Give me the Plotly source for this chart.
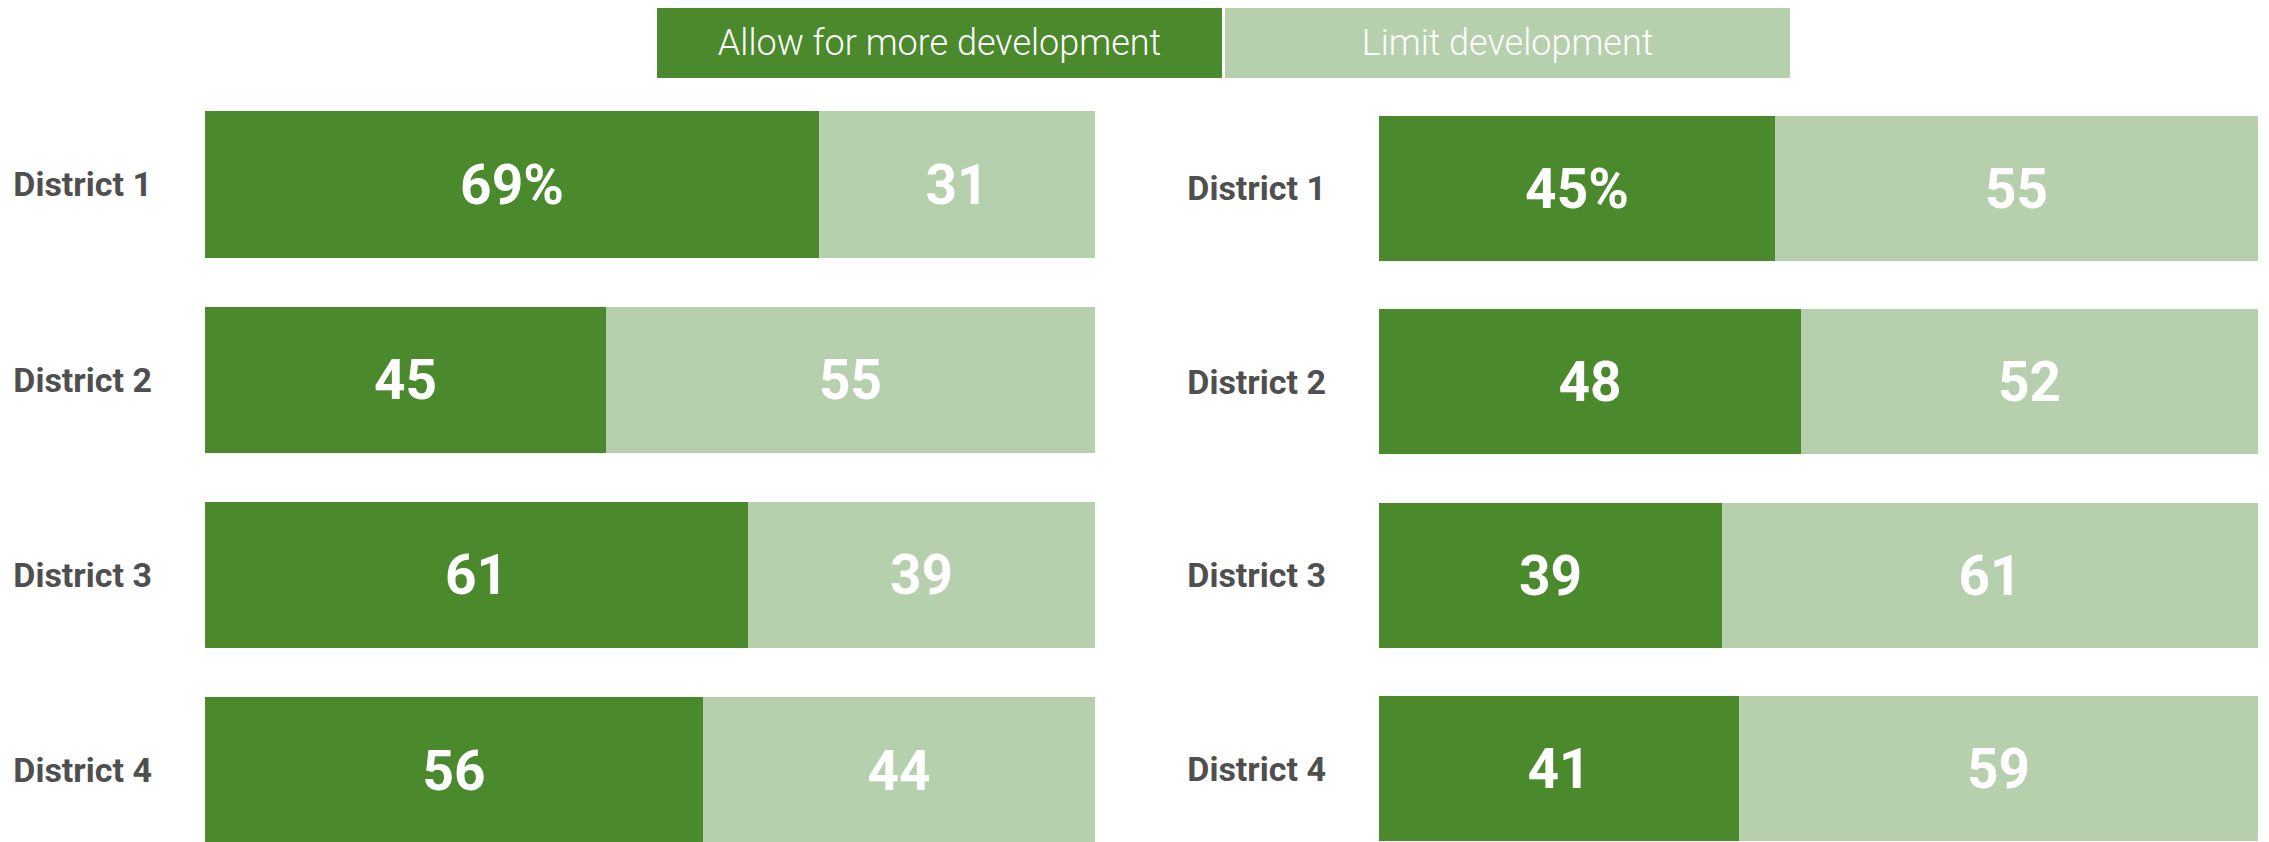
import plotly.graph_objects as go

districts = ["District 1", "District 2", "District 3", "District 4"]
left_allow = [69, 45, 61, 56]
left_limit = [31, 55, 39, 44]
right_allow = [45, 48, 39, 41]
right_limit = [55, 52, 61, 59]
legend_names = ["Allow for more development", "Limit development"]

DARK = "#4a892c"
LIGHT = "#b6cfad"
W, H = 2269, 842
OFF = 8  # page body margin

ypos = list(range(len(districts)))


def labels(vals, pct_first):
    return [f"{v}%" if (i == 0 and pct_first) else str(v) for i, v in enumerate(vals)]


fig = go.Figure()
num_font = dict(family="Roboto", size=55, color="white", weight="bold")

for (allow, limit, xa, ya) in [(left_allow, left_limit, "x", "y"), (right_allow, right_limit, "x2", "y2")]:
    fig.add_trace(go.Bar(
        x=allow, y=ypos, orientation="h", width=0.75, marker=dict(color=DARK, line=dict(width=0)),
        text=labels(allow, True), textposition="inside", insidetextanchor="middle",
        textfont=num_font, constraintext="none", xaxis=xa, yaxis=ya, hoverinfo="skip",
        showlegend=False, name=legend_names[0]))
    fig.add_trace(go.Bar(
        x=limit, y=ypos, orientation="h", width=0.75, marker=dict(color=LIGHT, line=dict(width=0)),
        text=labels(limit, False), textposition="inside", insidetextanchor="middle",
        textfont=num_font, constraintext="none", xaxis=xa, yaxis=ya, hoverinfo="skip",
        showlegend=False, name=legend_names[1]))

ytop = 1 - (90 - OFF) / H
tickfont = dict(family="Roboto", size=34, color="#4f4f4f", weight="bold")
yax_common = dict(tickvals=ypos, ticktext=districts, tickfont=tickfont, showgrid=False,
                  zeroline=False, showline=False, ticks="", ticklabelstandoff=52,
                  domain=[0, ytop], automargin=False, fixedrange=True)
xax_common = dict(range=[0, 100], visible=False, showgrid=False, zeroline=False, fixedrange=True)

fig.update_layout(
    width=W, height=H,
    margin=dict(l=0, r=0, t=0, b=0),
    paper_bgcolor="white", plot_bgcolor="white",
    barmode="stack", bargap=0,
    showlegend=False,
    xaxis=dict(domain=[(205 - OFF) / W, (1095 - OFF) / W], anchor="y", **xax_common),
    xaxis2=dict(domain=[(1379 - OFF) / W, (2258 - OFF) / W], anchor="y2", **xax_common),
    yaxis=dict(range=[3.408, -0.484], anchor="x", **yax_common),
    yaxis2=dict(range=[3.419, -0.507], anchor="x2", **yax_common),
    uniformtext=dict(mode=False),
)

leg_font = dict(family="Roboto", size=36, color="white", weight=300)
for name, color, cx in [(legend_names[0], DARK, (657 + 1222) / 2), (legend_names[1], LIGHT, (1225 + 1790) / 2)]:
    fig.add_annotation(
        x=(cx - OFF) / W, y=1 - (42.5 - OFF) / H, xref="paper", yref="paper", xanchor="center", yanchor="middle",
        text=name, showarrow=False, bgcolor=color, width=565, height=71, borderpad=0, borderwidth=0,
        font=leg_font, align="center", valign="middle")

fig.write_html("out.html")
